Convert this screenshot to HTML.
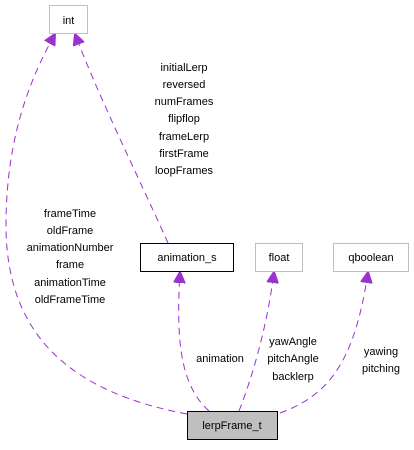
<!DOCTYPE html>
<html><head><style>
body{margin:0;background:#fff;}
svg text{font-family:"Liberation Sans",sans-serif;font-size:11px;}
</style></head><body>
<svg width="414" height="445" viewBox="0 0 414 445" xmlns="http://www.w3.org/2000/svg">
<defs><marker id="a" markerWidth="12" markerHeight="12" refX="11" refY="6" orient="auto" markerUnits="userSpaceOnUse"><path d="M0,0 L12,6 L0,12 z" fill="#9a32cd" stroke="#9a32cd"/></marker></defs>
<g fill="none" stroke="#9a32cd" stroke-width="1" stroke-dasharray="7,5">
<path d="M187,414 C70,392 6,335 6,225 C6,130 35,70 55,34" marker-end="url(#a)"/>
<path d="M168,243 C140,180 100,100 75,34" marker-end="url(#a)"/>
<path d="M209,411 C180,385 176,340 180,272" marker-end="url(#a)"/>
<path d="M239,411 C255,370 268,320 274,272" marker-end="url(#a)"/>
<path d="M280,413 C330,395 355,360 368,272" marker-end="url(#a)"/>
</g>
<rect x="49.5" y="5.5" width="38" height="28" fill="#fff" stroke="#bfbfbf"/>
<text x="68.5" y="24" text-anchor="middle">int</text>
<rect x="140.5" y="243.5" width="93" height="28" fill="#fff" stroke="#000"/>
<text x="187" y="261" text-anchor="middle">animation_s</text>
<rect x="255.5" y="243.5" width="47" height="28" fill="#fff" stroke="#bfbfbf"/>
<text x="279" y="261" text-anchor="middle">float</text>
<rect x="333.5" y="243.5" width="75" height="28" fill="#fff" stroke="#bfbfbf"/>
<text x="371" y="261" text-anchor="middle">qboolean</text>
<rect x="187.5" y="411.5" width="90" height="28" fill="#bfbfbf" stroke="#000"/>
<text x="232" y="429" text-anchor="middle">lerpFrame_t</text>
<g text-anchor="middle">
<text x="184" y="71">initialLerp</text>
<text x="184" y="88">reversed</text>
<text x="184" y="105">numFrames</text>
<text x="184" y="122">flipflop</text>
<text x="184" y="140">frameLerp</text>
<text x="184" y="157">firstFrame</text>
<text x="184" y="174">loopFrames</text>
<text x="70" y="217">frameTime</text>
<text x="70" y="234">oldFrame</text>
<text x="70" y="251">animationNumber</text>
<text x="70" y="268">frame</text>
<text x="70" y="286">animationTime</text>
<text x="70" y="303">oldFrameTime</text>
<text x="220" y="362">animation</text>
<text x="293" y="345">yawAngle</text>
<text x="293" y="362">pitchAngle</text>
<text x="293" y="380">backlerp</text>
<text x="381" y="355">yawing</text>
<text x="381" y="372">pitching</text>
</g>
</svg>
</body></html>
